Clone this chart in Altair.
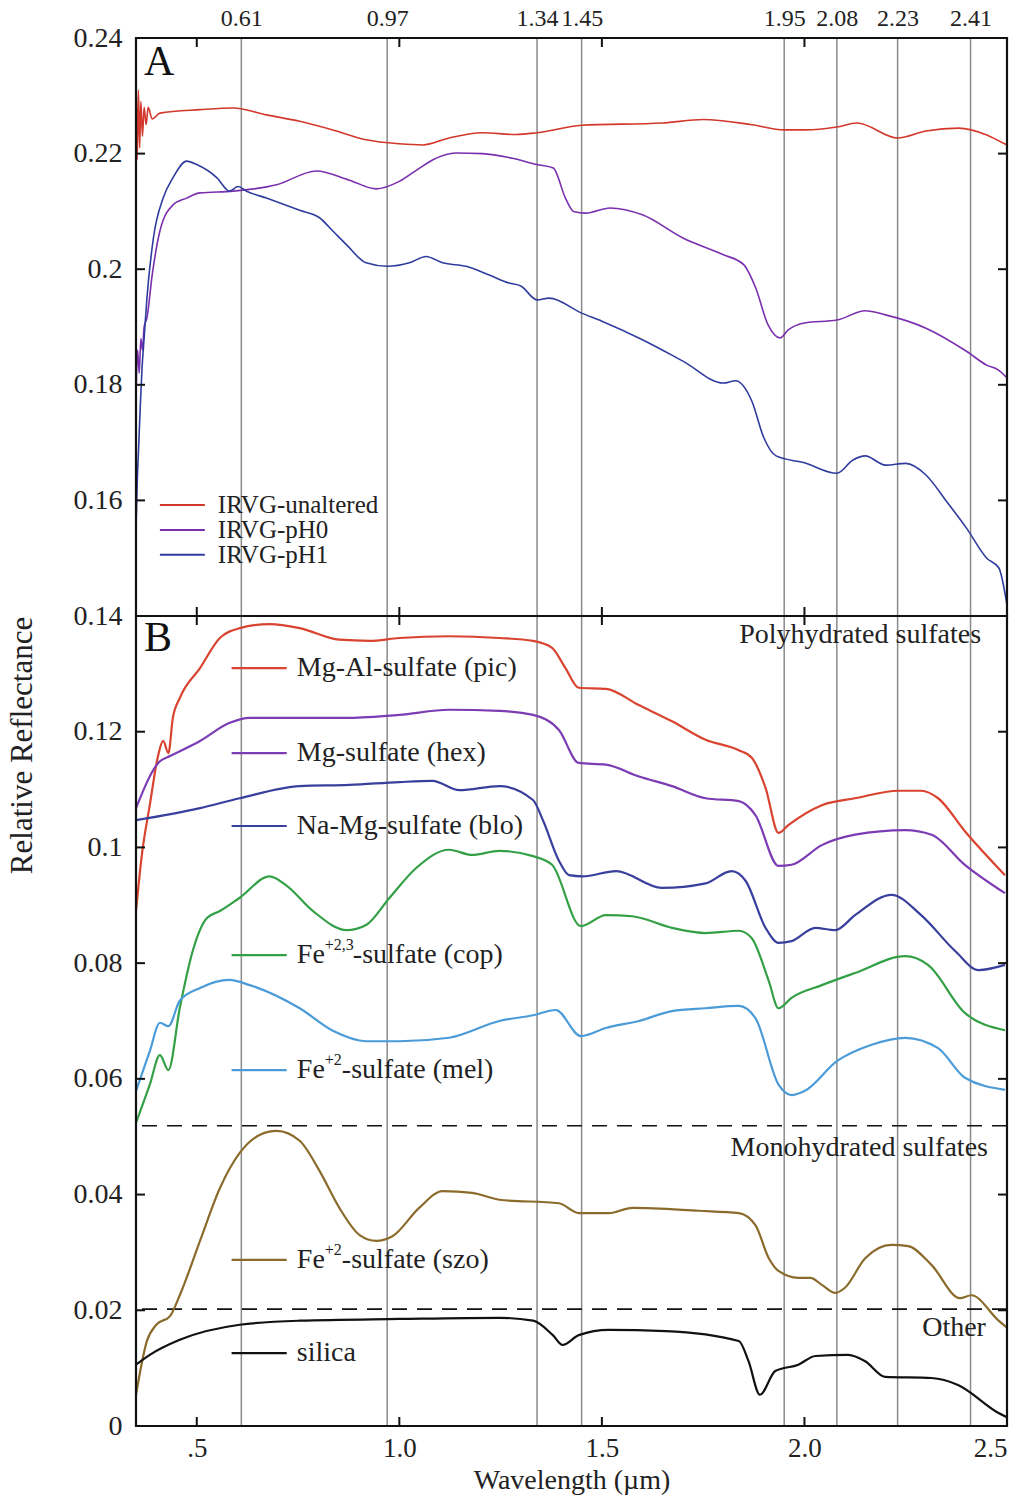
import altair as alt
import pandas as pd

# ---------------- data ----------------
# Panel A spectra
x_unaltered = [0.350, 0.353, 0.356, 0.359, 0.362, 0.366, 0.370, 0.375, 0.380, 0.390, 0.409, 0.508, 0.590,
               0.672, 0.754, 0.836, 0.918, 1.000, 1.058, 1.123, 1.205, 1.287, 1.340, 1.450, 1.650, 1.750,
               1.870, 1.950, 2.000, 2.080, 2.130, 2.230, 2.300, 2.380, 2.450, 2.480, 2.500]
y_unaltered = [0.236, 0.219, 0.231, 0.221, 0.229, 0.223, 0.228, 0.225, 0.228, 0.226, 0.2270, 0.2276, 0.2279,
               0.2267, 0.2256, 0.2241, 0.2224, 0.2217, 0.2215, 0.2227, 0.2236, 0.2233, 0.2236, 0.2249, 0.2253,
               0.2259, 0.2250, 0.2241, 0.2241, 0.2246, 0.2253, 0.2227, 0.2239, 0.2244, 0.2232, 0.2222, 0.2215]

x_ph0 = [0.350, 0.354, 0.358, 0.362, 0.366, 0.370, 0.377, 0.390, 0.409, 0.441, 0.475, 0.508, 0.590, 0.697,
         0.795, 0.877, 0.943, 1.000, 1.050, 1.082, 1.140, 1.205, 1.279, 1.340, 1.380, 1.410, 1.430, 1.460,
         1.520, 1.600, 1.700, 1.800, 1.850, 1.880, 1.910, 1.940, 1.960, 2.000, 2.080, 2.150, 2.200, 2.300,
         2.400, 2.450, 2.480, 2.500]
y_ph0 = [0.178, 0.186, 0.182, 0.188, 0.186, 0.190, 0.1916, 0.199, 0.2066, 0.2111, 0.2123, 0.2132, 0.2135,
         0.2146, 0.2170, 0.2154, 0.2139, 0.2152, 0.2175, 0.2189, 0.2201, 0.2200, 0.2192, 0.2181, 0.2175,
         0.2123, 0.2100, 0.2097, 0.2106, 0.2094, 0.2054, 0.2025, 0.2008, 0.1967, 0.1904, 0.1881, 0.1895,
         0.1907, 0.1912, 0.1928, 0.1921, 0.1898, 0.1858, 0.1834, 0.1825, 0.1812]

x_ph1 = [0.350, 0.353, 0.357, 0.361, 0.365, 0.370, 0.377, 0.393, 0.417, 0.441, 0.475, 0.500, 0.550, 0.581,
         0.602, 0.623, 0.672, 0.754, 0.803, 0.836, 0.870, 0.918, 0.970, 1.025, 1.066, 1.107, 1.165, 1.222,
         1.271, 1.300, 1.340, 1.370, 1.450, 1.500, 1.600, 1.700, 1.800, 1.830, 1.870, 1.900, 1.930, 2.000,
         2.080, 2.120, 2.150, 2.200, 2.250, 2.300, 2.350, 2.400, 2.450, 2.480, 2.500]
y_ph1 = [0.155, 0.163, 0.170, 0.177, 0.183, 0.188, 0.1950, 0.2054, 0.2123, 0.2158, 0.2187, 0.2181, 0.2158,
         0.2135, 0.2143, 0.2135, 0.2123, 0.2102, 0.2089, 0.2066, 0.2042, 0.2011, 0.2005, 0.2011, 0.2022,
         0.2011, 0.2005, 0.1990, 0.1976, 0.1971, 0.1947, 0.1950, 0.1924, 0.1910, 0.1878, 0.1841, 0.1803,
         0.1807, 0.1772, 0.1708, 0.1677, 0.1665, 0.1647, 0.1670, 0.1677, 0.1661, 0.1664, 0.1644, 0.1599,
         0.1552, 0.1500, 0.1483, 0.1419]

# Panel B spectra
x_pic = [0.350, 0.365, 0.384, 0.405, 0.417, 0.430, 0.441, 0.458, 0.508, 0.557, 0.606, 0.680, 0.754, 0.852,
         0.926, 1.000, 1.123, 1.247, 1.330, 1.377, 1.410, 1.443, 1.510, 1.591, 1.673, 1.756, 1.838, 1.870,
         1.904, 1.936, 1.961, 2.043, 2.125, 2.232, 2.288, 2.330, 2.396, 2.495]
y_pic = [0.0890, 0.0990, 0.1073, 0.1160, 0.1184, 0.1163, 0.1224, 0.1258, 0.1310, 0.1362, 0.1379, 0.1386,
         0.1379, 0.1359, 0.1357, 0.1362, 0.1365, 0.1362, 0.1357, 0.1345, 0.1310, 0.1276, 0.1274, 0.1246,
         0.1218, 0.1186, 0.1168, 0.1155, 0.1103, 0.1025, 0.1039, 0.1073, 0.1085, 0.1098, 0.1098, 0.1085,
         0.1028, 0.0952]

x_hex = [0.350, 0.409, 0.434, 0.508, 0.580, 0.631, 0.754, 0.877, 1.000, 1.123, 1.247, 1.330, 1.394, 1.443,
         1.510, 1.590, 1.673, 1.756, 1.838, 1.879, 1.936, 1.968, 2.043, 2.125, 2.249, 2.314, 2.396, 2.495]
y_hex = [0.1068, 0.1149, 0.1158, 0.1184, 0.1215, 0.1224, 0.1224, 0.1224, 0.1229, 0.1238, 0.1236, 0.1229,
         0.1203, 0.1146, 0.1143, 0.1123, 0.1106, 0.1085, 0.1080, 0.1056, 0.0968, 0.0970, 0.1004, 0.1022,
         0.1030, 0.1022, 0.0970, 0.0921]

x_blo = [0.350, 0.508, 0.606, 0.754, 0.877, 1.000, 1.082, 1.148, 1.247, 1.330, 1.355, 1.394, 1.419, 1.452,
         1.535, 1.648, 1.756, 1.820, 1.855, 1.904, 1.936, 1.968, 2.027, 2.076, 2.125, 2.215, 2.288, 2.372,
         2.430, 2.495]
y_blo = [0.1047, 0.1068, 0.1085, 0.1106, 0.1108, 0.1113, 0.1115, 0.1099, 0.1106, 0.1082, 0.1046, 0.0977,
         0.0952, 0.0950, 0.0959, 0.0930, 0.0938, 0.0959, 0.0942, 0.0861, 0.0835, 0.0838, 0.0861, 0.0857,
         0.0883, 0.0918, 0.0883, 0.0821, 0.0788, 0.0797]

x_cop = [0.350, 0.384, 0.409, 0.430, 0.458, 0.490, 0.525, 0.557, 0.606, 0.680, 0.720, 0.787, 0.870, 0.918,
         0.976, 1.041, 1.123, 1.180, 1.247, 1.330, 1.377, 1.448, 1.510, 1.575, 1.673, 1.756, 1.838, 1.870,
         1.912, 1.936, 1.968, 2.043, 2.125, 2.249, 2.305, 2.396, 2.495]
y_cop = [0.0524, 0.0590, 0.0641, 0.0615, 0.0722, 0.0821, 0.0878, 0.0890, 0.0913, 0.0950, 0.0935, 0.0890,
         0.0857, 0.0866, 0.0913, 0.0964, 0.0996, 0.0987, 0.0994, 0.0985, 0.0970, 0.0864, 0.0883, 0.0881,
         0.0861, 0.0852, 0.0856, 0.0843, 0.0769, 0.0722, 0.0740, 0.0762, 0.0783, 0.0812, 0.0797, 0.0714,
         0.0684]

x_mel = [0.350, 0.384, 0.409, 0.430, 0.458, 0.508, 0.580, 0.631, 0.754, 0.836, 0.918, 1.000, 1.123, 1.247,
         1.330, 1.386, 1.448, 1.510, 1.591, 1.673, 1.756, 1.838, 1.879, 1.936, 1.968, 2.000, 2.081, 2.166,
         2.249, 2.330, 2.396, 2.495]
y_mel = [0.0579, 0.0648, 0.0697, 0.0691, 0.0735, 0.0757, 0.0771, 0.0762, 0.0722, 0.0683, 0.0665, 0.0665,
         0.0671, 0.0700, 0.0710, 0.0719, 0.0674, 0.0688, 0.0700, 0.0717, 0.0722, 0.0726, 0.0705, 0.0590,
         0.0572, 0.0579, 0.0631, 0.0659, 0.0671, 0.0653, 0.0602, 0.0581]

x_szo = [0.350, 0.377, 0.400, 0.434, 0.458, 0.508, 0.557, 0.606, 0.655, 0.697, 0.754, 0.803, 0.852, 0.902,
         0.943, 0.983, 1.049, 1.107, 1.180, 1.247, 1.394, 1.443, 1.517, 1.575, 1.739, 1.838, 1.879, 1.912,
         1.936, 1.985, 2.015, 2.043, 2.076, 2.100, 2.150, 2.215, 2.256, 2.314, 2.384, 2.412, 2.478, 2.500]
y_szo = [0.0054, 0.0147, 0.0175, 0.0190, 0.0226, 0.0320, 0.0411, 0.0472, 0.0503, 0.0510, 0.0493, 0.0441,
         0.0377, 0.0330, 0.0320, 0.0328, 0.0377, 0.0406, 0.0403, 0.0391, 0.0385, 0.0368, 0.0368, 0.0377,
         0.0372, 0.0368, 0.0347, 0.0290, 0.0268, 0.0256, 0.0256, 0.0244, 0.0230, 0.0239, 0.0290, 0.0313,
         0.0311, 0.0278, 0.0221, 0.0226, 0.0183, 0.0170]

x_silica = [0.350, 0.384, 0.458, 0.606, 0.754, 1.000, 1.247, 1.330, 1.379, 1.403, 1.443, 1.517, 1.657,
            1.838, 1.862, 1.890, 1.928, 1.985, 2.027, 2.108, 2.150, 2.199, 2.314, 2.379, 2.478, 2.500]
y_silica = [0.0106, 0.0123, 0.0149, 0.0175, 0.0182, 0.0185, 0.0187, 0.0182, 0.0157, 0.0140, 0.0157, 0.0166,
            0.0164, 0.0147, 0.0112, 0.0054, 0.0095, 0.0106, 0.0121, 0.0123, 0.0112, 0.0085, 0.0083, 0.0071,
            0.0023, 0.0015]

# absorption feature positions (µm) and group boundaries
features = [0.61, 0.97, 1.34, 1.45, 1.95, 2.08, 2.23, 2.41]
group_bounds = [0.0519, 0.0202]

names_a = ["IRVG-unaltered", "IRVG-pH0", "IRVG-pH1"]
colors_a = ["#d2382b", "#7a2fae", "#2f3c9e"]
names_b = ["pic", "hex", "blo", "cop", "mel", "szo", "silica"]
colors_b = ["#d8442f", "#7c3cb4", "#393f9d", "#33a046", "#4b9bd8", "#8b6b2c", "#111111"]

# label layout (annotation positions)
legA_y = [0.1592, 0.1549, 0.1506]
legB_y = [0.1310, 0.1163, 0.1037, 0.0814, 0.0615, 0.0287, 0.0126]
legB_main = ["Mg-Al-sulfate (pic)", "Mg-sulfate (hex)", "Na-Mg-sulfate (blo)", "Fe", "Fe", "Fe", "silica"]
legB_sup = ["", "", "", "+2,3", "+2", "+2", ""]
legB_rest = ["", "", "", "-sulfate (cop)", "-sulfate (mel)", "-sulfate (szo)", ""]

FONT = "Liberation Serif"
W, HA, HB = 871, 578, 810
TK = 9

# ---------------- build tables ----------------
def series_df(key, pairs):
    rows = []
    for name, xs, ys in pairs:
        for xv, yv in zip(xs, ys):
            rows.append({key: name, "x": xv, "y": yv})
    return pd.DataFrame(rows)

dfA = series_df("sa", [(names_a[0], x_unaltered, y_unaltered),
                       (names_a[1], x_ph0, y_ph0),
                       (names_a[2], x_ph1, y_ph1)])
dfB = series_df("sb", [("pic", x_pic, y_pic), ("hex", x_hex, y_hex), ("blo", x_blo, y_blo),
                       ("cop", x_cop, y_cop), ("mel", x_mel, y_mel), ("szo", x_szo, y_szo),
                       ("silica", x_silica, y_silica)])

feat_df = pd.DataFrame({"x": features})
xtick_df = pd.DataFrame({"x": [0.5, 1.0, 1.5, 2.0]})
ytickA_df = pd.DataFrame({"y": [0.16, 0.18, 0.20, 0.22]})
ytickB_df = pd.DataFrame({"y": [0.02, 0.04, 0.06, 0.08, 0.10, 0.12]})
bounds_df = pd.DataFrame({"y": group_bounds})

legA_df = pd.DataFrame({"sa": names_a, "y": legA_y, "x": [0.409] * 3, "x2": [0.52] * 3,
                        "xt": [0.552] * 3})
legB_df = pd.DataFrame({"sb": names_b, "y": legB_y, "x": [0.586] * 7, "x2": [0.722] * 7,
                        "xt": [0.747] * 7, "main": legB_main, "sup": legB_sup, "rest": legB_rest})

sx = alt.Scale(domain=[0.35, 2.5], nice=False, zero=False)
syA = alt.Scale(domain=[0.14, 0.24], nice=False, zero=False)
syB = alt.Scale(domain=[0.0, 0.14], nice=False, zero=False)

axis_top = alt.Axis(orient="top", values=features, format=".2f", ticks=False, domain=False, grid=False,
                    labelFont=FONT, labelFontSize=24, labelPadding=8, labelOverlap=False,
                    labelColor="#222", title=None)
axis_bottom = alt.Axis(orient="bottom", values=[0.5, 1.0, 1.5, 2.0, 2.5], ticks=False, domain=False,
                       grid=False, labelFont=FONT, labelFontSize=27, labelPadding=9, labelColor="#222",
                       labelExpr="datum.value == 0.5 ? '.5' : format(datum.value, '.1f')",
                       title="Wavelength (µm)", titleFont=FONT, titleFontSize=28,
                       titleFontWeight="normal", titleColor="#222", titlePadding=5)
axis_yA = alt.Axis(values=[0.16, 0.18, 0.20, 0.22, 0.24], format="~g", ticks=False, domain=False,
                   grid=False, labelFont=FONT, labelFontSize=28, labelPadding=14, labelColor="#222",
                   title=None)
axis_yB = alt.Axis(values=[0, 0.02, 0.04, 0.06, 0.08, 0.10, 0.12, 0.14], format="~g", ticks=False,
                   domain=False, grid=False, labelFont=FONT, labelFontSize=28, labelPadding=14,
                   labelColor="#222", title="Relative Reflectance", titleFont=FONT, titleFontSize=31,
                   titleFontWeight="normal", titleColor="#222", titleY=129, titlePadding=35)

xA = alt.X("x:Q", scale=sx, axis=axis_top)
xB = alt.X("x:Q", scale=sx, axis=axis_bottom)
yA = alt.Y("y:Q", scale=syA, axis=axis_yA)
yB = alt.Y("y:Q", scale=syB, axis=axis_yB)
colA = alt.Color("sa:N", scale=alt.Scale(domain=names_a, range=colors_a), legend=None)
colB = alt.Color("sb:N", scale=alt.Scale(domain=names_b, range=colors_b), legend=None)

tick_color = "#111"

def frame(h):
    return alt.Chart(pd.DataFrame({"f": [0]})).mark_rect(
        fill=None, stroke="#111", strokeWidth=2.2, fillOpacity=0).encode(
        x=alt.value(0), x2=alt.value(W), y=alt.value(0), y2=alt.value(h))

# ---------------- panel A ----------------
a_feat = alt.Chart(feat_df).mark_rule(color="#8a8a8a", strokeWidth=1.5).encode(x=xA)
a_lines = alt.Chart(dfA).mark_line(interpolate="monotone", strokeWidth=1.6, clip=True).encode(
    x=xA, y=yA, color=colA, detail="sa:N")
a_xt_top = alt.Chart(xtick_df).mark_rule(color=tick_color, strokeWidth=2).encode(
    x=xA, y=alt.value(0), y2=alt.value(TK))
a_xt_bot = alt.Chart(xtick_df).mark_rule(color=tick_color, strokeWidth=2).encode(
    x=xA, y=alt.value(HA - TK), y2=alt.value(HA))
a_yt_l = alt.Chart(ytickA_df).mark_rule(color=tick_color, strokeWidth=2).encode(
    y=yA, x=alt.value(0), x2=alt.value(TK))
a_yt_r = alt.Chart(ytickA_df).mark_rule(color=tick_color, strokeWidth=2).encode(
    y=yA, x=alt.value(W - TK), x2=alt.value(W))
a_leg_l = alt.Chart(legA_df).mark_rule(strokeWidth=2).encode(x=xA, x2="x2:Q", y=yA, color=colA)
a_leg_t = alt.Chart(legA_df).mark_text(align="left", baseline="middle", font=FONT, fontSize=25,
                                       color="#222").encode(x=alt.X("xt:Q", scale=sx), y=yA, text="sa:N")
a_tag = alt.Chart(pd.DataFrame({"t": ["A"]})).mark_text(
    align="left", baseline="middle", font=FONT, fontSize=42, color="#111").encode(
    text="t:N", x=alt.value(8), y=alt.value(24))

panelA = alt.layer(a_feat, a_lines, a_xt_top, a_xt_bot, a_yt_l, a_yt_r, a_leg_l, a_leg_t, a_tag,
                   frame(HA)).properties(width=W, height=HA)

# ---------------- panel B ----------------
b_feat = alt.Chart(feat_df).mark_rule(color="#8a8a8a", strokeWidth=1.5).encode(x=xB)
b_bounds = alt.Chart(bounds_df).mark_rule(color="#111", strokeWidth=1.6, strokeDash=[15, 10]).encode(y=yB)
b_lines = alt.Chart(dfB).mark_line(interpolate="monotone", strokeWidth=2.2, clip=True).encode(
    x=xB, y=yB, color=colB, detail="sb:N")
b_xt_top = alt.Chart(xtick_df).mark_rule(color=tick_color, strokeWidth=2).encode(
    x=xB, y=alt.value(0), y2=alt.value(TK))
b_xt_bot = alt.Chart(xtick_df).mark_rule(color=tick_color, strokeWidth=2).encode(
    x=xB, y=alt.value(HB - TK), y2=alt.value(HB))
b_yt_l = alt.Chart(ytickB_df).mark_rule(color=tick_color, strokeWidth=2).encode(
    y=yB, x=alt.value(0), x2=alt.value(TK))
b_yt_r = alt.Chart(ytickB_df).mark_rule(color=tick_color, strokeWidth=2).encode(
    y=yB, x=alt.value(W - TK), x2=alt.value(W))
b_leg_l = alt.Chart(legB_df).mark_rule(strokeWidth=2.2).encode(x=xB, x2="x2:Q", y=yB, color=colB)
b_leg_main = alt.Chart(legB_df).mark_text(align="left", baseline="middle", font=FONT, fontSize=28,
                                          color="#222").encode(x=alt.X("xt:Q", scale=sx), y=yB, text="main:N")
b_leg_sup = alt.Chart(legB_df).mark_text(align="left", baseline="middle", font=FONT, fontSize=16,
                                         color="#222", dx=28, dy=-10).encode(
    x=alt.X("xt:Q", scale=sx), y=yB, text="sup:N")
b_leg_rest1 = alt.Chart(legB_df).transform_filter("datum.sup == '+2,3'").mark_text(
    align="left", baseline="middle", font=FONT, fontSize=28, color="#222", dx=56).encode(
    x=alt.X("xt:Q", scale=sx), y=yB, text="rest:N")
b_leg_rest2 = alt.Chart(legB_df).transform_filter("datum.sup == '+2'").mark_text(
    align="left", baseline="middle", font=FONT, fontSize=28, color="#222", dx=45).encode(
    x=alt.X("xt:Q", scale=sx), y=yB, text="rest:N")

groups_df = pd.DataFrame({"label": ["Polyhydrated sulfates", "Monohydrated sulfates", "Other"],
                          "x": [2.436, 2.453, 2.448], "y": [0.1367, 0.0481, 0.0169]})
b_groups = alt.Chart(groups_df).mark_text(align="right", baseline="middle", font=FONT, fontSize=28,
                                          color="#222").encode(x=xB, y=yB, text="label:N")
b_tag = alt.Chart(pd.DataFrame({"t": ["B"]})).mark_text(
    align="left", baseline="middle", font=FONT, fontSize=42, color="#111").encode(
    text="t:N", x=alt.value(8), y=alt.value(22))

panelB = alt.layer(b_feat, b_bounds, b_lines, b_xt_top, b_xt_bot, b_yt_l, b_yt_r, b_leg_l,
                   b_leg_main, b_leg_sup, b_leg_rest1, b_leg_rest2, b_groups, b_tag,
                   frame(HB)).properties(width=W, height=HB)

chart = alt.vconcat(panelA, panelB, spacing=0, bounds="flush").resolve_scale(
    color="independent").configure_view(stroke=None).configure(background="white")

chart.save("out.html", embed_options={"renderer": "svg", "actions": False})
